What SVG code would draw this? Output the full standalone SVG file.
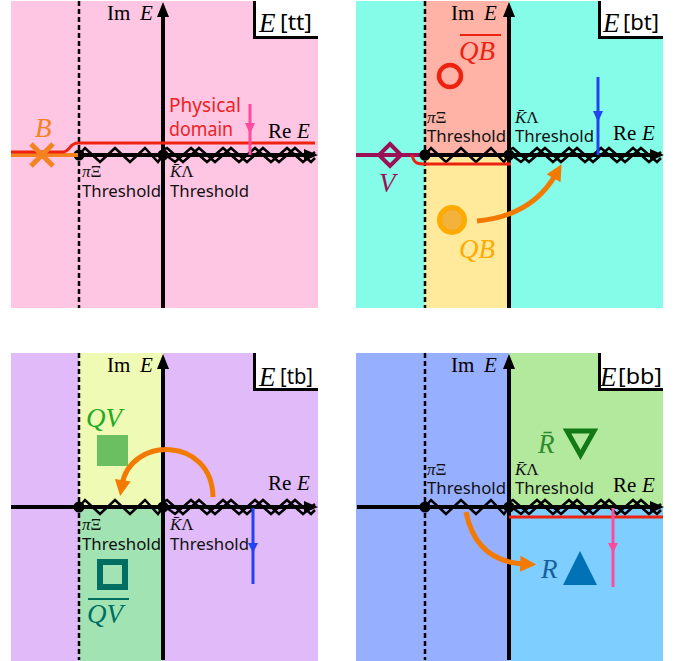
<svg xmlns="http://www.w3.org/2000/svg" xmlns:xlink="http://www.w3.org/1999/xlink" width="681" height="661" viewBox="0 0 681 661">
<style>
.serif{font-family:"Liberation Serif","Times New Roman",serif;}
.it{font-style:italic;}
.sans{font-family:"Noto Sans","Liberation Sans",Arial,sans-serif;}
.lbl{font-family:"Liberation Serif",serif;font-size:21px;fill:#000;}
.thr{font-family:"Noto Sans","Liberation Sans",sans-serif;font-size:16.5px;fill:#111;}
.sym{font-family:"Liberation Serif",serif;font-size:17px;fill:#111;}
.dash{stroke:#000;stroke-width:2.5;stroke-dasharray:5 3;fill:none;}
.axis{stroke:#000;stroke-width:4;fill:none;}
.zz{stroke:#000;stroke-width:2.5;fill:none;stroke-linejoin:miter;}
.box{fill:#fff;}
.boxb{stroke:#000;stroke-width:3;fill:none;}
.orarr{stroke:#F27A00;stroke-width:5;fill:none;marker-end:url(#oh);}
</style>
<defs>
<marker id="oh" viewBox="0 0 10 10" markerWidth="3.4" markerHeight="3.2" refX="3" refY="5" orient="auto" markerUnits="strokeWidth">
<path d="M0,0 L10,5 L0,10 z" fill="#F27A00"/>
</marker>
<g id="ax">
<line class="dash" x1="79" y1="-154" x2="79" y2="153"/>
<line class="axis" x1="163" y1="153" x2="163" y2="-140"/>
<polygon points="163,-153 157,-138 169,-138" fill="#000"/>
<line class="axis" x1="11" y1="0" x2="306" y2="0"/>
<polygon points="318,0 304,-6 304,6" fill="#000"/>
<polyline class="zz" points="79,0 85,-7 100,7 115,-7 130,7 145,-7 158,7 163,0"/>
<polyline class="zz" points="163,-5 167,-7 183,7 199,-7 215,7 231,-7 247,7 263,-7 279,7 295,-7 311,7 315,3"/>
<polyline class="zz" points="163,-2 175,7 191,-7 207,7 223,-7 239,7 255,-7 271,7 287,-7 303,7 315,-3"/>
<circle cx="79" cy="0" r="5.5" fill="#000"/>
<circle cx="163" cy="0" r="5.5" fill="#000"/>
</g>
</defs>

<!-- ===== Quadrant tt ===== -->
<g id="q-tt">
<rect x="11" y="1" width="307" height="307" fill="#FFC6E3"/>
<use xlink:href="#ax" href="#ax" transform="translate(0,155)"/>
<rect class="box" x="253" y="1" width="65" height="36"/>
<path class="boxb" d="M254.5,1 V37.5 H318"/>
<text x="259" y="32" class="serif it" font-size="27">E</text>
<text x="280" y="30" class="sans" font-size="22" textLength="32" lengthAdjust="spacingAndGlyphs">[tt]</text>
<text x="107" y="20" class="lbl">Im<tspan x="140" class="it">E</tspan></text>
<text x="268" y="138" class="lbl">Re<tspan x="297" class="it">E</tspan></text>
<text x="82" y="177" class="sym"><tspan class="it">π</tspan>Ξ</text>
<text x="82" y="197" class="thr" textLength="79" lengthAdjust="spacingAndGlyphs">Threshold</text>
<text x="170" y="177" class="sym"><tspan class="it">K̄</tspan>Λ</text>
<text x="170" y="197" class="thr" textLength="79" lengthAdjust="spacingAndGlyphs">Threshold</text>
<line x1="11" y1="155" x2="78" y2="155" stroke="#F58220" stroke-width="4"/>
<path d="M11,152 H63 C70,152 69,143 78,143 H315" stroke="#EE2211" stroke-width="3" fill="none"/>
<g id="B-pole">
<path d="M31,144 L53,166 M53,144 L31,166" stroke="#F58220" stroke-width="5"/>
<text x="35" y="137" class="serif it" font-size="27" fill="#F58220">B</text>
</g>
<text x="169" y="112" class="sans" font-size="19" fill="#EE2222" textLength="72" lengthAdjust="spacingAndGlyphs">Physical</text>
<text x="169" y="136" class="sans" font-size="19" fill="#EE2222" textLength="64" lengthAdjust="spacingAndGlyphs">domain</text>
<line x1="250" y1="104" x2="250" y2="155" stroke="#FF4A9E" stroke-width="3"/>
<polygon points="245,123 255,123 250,134" fill="#FF4A9E"/>
</g>

<!-- ===== Quadrant bt ===== -->
<g id="q-bt">
<rect x="356" y="1" width="307" height="307" fill="#84FCE8"/>
<rect x="425" y="1" width="84" height="154" fill="#FFB3A7"/>
<rect x="425" y="155" width="84" height="153" fill="#FFE99A"/>
<use xlink:href="#ax" href="#ax" transform="translate(346,155)"/>
<rect class="box" x="598" y="1" width="65" height="36"/>
<path class="boxb" d="M599.5,1 V37.5 H663"/>
<text x="603" y="32" class="serif it" font-size="27">E</text>
<text x="623" y="30" class="sans" font-size="22" textLength="36" lengthAdjust="spacingAndGlyphs">[bt]</text>
<text x="451" y="20" class="lbl">Im<tspan x="484" class="it">E</tspan></text>
<text x="613" y="140" class="lbl">Re<tspan x="642" class="it">E</tspan></text>
<text x="427" y="123" class="sym"><tspan class="it">π</tspan>Ξ</text>
<text x="427" y="142" class="thr" textLength="79" lengthAdjust="spacingAndGlyphs">Threshold</text>
<text x="515" y="123" class="sym"><tspan class="it">K̄</tspan>Λ</text>
<text x="515" y="142" class="thr" textLength="79" lengthAdjust="spacingAndGlyphs">Threshold</text>
<line x1="356" y1="155" x2="420" y2="155" stroke="#9B1057" stroke-width="4"/>
<path d="M412,155 C414,164 418,164 426,164 H511" stroke="#EE2211" stroke-width="3" fill="none"/>
<circle cx="425" cy="155" r="5.5" fill="#000"/>
<g id="V-pole">
<path d="M390,144 L401,155 L390,166 L379,155 Z" fill="none" stroke="#9B1057" stroke-width="4"/>
<text x="379" y="192" class="serif it" font-size="27" fill="#9B1057">V</text>
</g>
<g id="QBbar-pole">
<circle cx="450" cy="76" r="11" fill="none" stroke="#EE2211" stroke-width="4.5"/>
<line x1="460" y1="35" x2="501" y2="35" stroke="#EE2211" stroke-width="1.8"/>
<text x="459" y="60" class="serif it" font-size="27" fill="#EE2211">QB</text>
</g>
<g id="QB-pole">
<circle cx="452" cy="220" r="12.5" fill="#F2B23C" stroke="#FFAA00" stroke-width="5"/>
<text x="459" y="258" class="serif it" font-size="27" fill="#FFAA00">QB</text>
</g>
<line x1="598" y1="77" x2="598" y2="155" stroke="#2244EE" stroke-width="3"/>
<polygon points="593,111 603,111 598,122" fill="#2244EE"/>
</g>

<!-- ===== Quadrant tb ===== -->
<g id="q-tb">
<rect x="11" y="353" width="307" height="308" fill="#E0BAF9"/>
<rect x="79" y="353" width="84" height="154" fill="#EFFBB4"/>
<rect x="79" y="507" width="84" height="154" fill="#A2E3B4"/>
<use xlink:href="#ax" href="#ax" transform="translate(0,507)"/>
<rect class="box" x="253" y="353" width="65" height="36"/>
<path class="boxb" d="M254.5,353 V389.5 H318"/>
<text x="259" y="386" class="serif it" font-size="27">E</text>
<text x="280" y="384" class="sans" font-size="22" textLength="33" lengthAdjust="spacingAndGlyphs">[tb]</text>
<text x="107" y="372" class="lbl">Im<tspan x="140" class="it">E</tspan></text>
<text x="268" y="490" class="lbl">Re<tspan x="297" class="it">E</tspan></text>
<text x="82" y="530" class="sym"><tspan class="it">π</tspan>Ξ</text>
<text x="82" y="550" class="thr" textLength="79" lengthAdjust="spacingAndGlyphs">Threshold</text>
<text x="170" y="530" class="sym"><tspan class="it">K̄</tspan>Λ</text>
<text x="170" y="550" class="thr" textLength="79" lengthAdjust="spacingAndGlyphs">Threshold</text>
<g id="QV-pole">
<rect x="97" y="435" width="31" height="31" fill="#6CBF60"/>
<text x="86" y="427" class="serif it" font-size="27" fill="#22AA22">QV</text>
</g>
<g id="QVbar-pole">
<rect x="100" y="562" width="25" height="25" fill="none" stroke="#006E60" stroke-width="6"/>
<line x1="88" y1="599" x2="129" y2="599" stroke="#006E60" stroke-width="1.8"/>
<text x="87" y="623" class="serif it" font-size="27" fill="#006E60">QV</text>
</g>
<line x1="253" y1="508" x2="253" y2="584" stroke="#2244EE" stroke-width="3"/>
<polygon points="248,543 258,543 253,553" fill="#2244EE"/>
</g>

<!-- ===== Quadrant bb ===== -->
<g id="q-bb">
<rect x="356" y="353" width="307" height="308" fill="#97AFFF"/>
<rect x="509" y="353" width="154" height="154" fill="#B2E99D"/>
<rect x="509" y="507" width="154" height="154" fill="#7ECEFF"/>
<use xlink:href="#ax" href="#ax" transform="translate(346,507)"/>
<rect class="box" x="598" y="353" width="65" height="36"/>
<path class="boxb" d="M599.5,353 V389.5 H663"/>
<text x="600" y="386" class="serif it" font-size="27">E</text>
<text x="618" y="384" class="sans" font-size="22" textLength="44" lengthAdjust="spacingAndGlyphs">[bb]</text>
<text x="451" y="372" class="lbl">Im<tspan x="484" class="it">E</tspan></text>
<text x="613" y="492" class="lbl">Re<tspan x="642" class="it">E</tspan></text>
<text x="427" y="475" class="sym"><tspan class="it">π</tspan>Ξ</text>
<text x="427" y="494" class="thr" textLength="79" lengthAdjust="spacingAndGlyphs">Threshold</text>
<text x="515" y="475" class="sym"><tspan class="it">K̄</tspan>Λ</text>
<text x="515" y="494" class="thr" textLength="79" lengthAdjust="spacingAndGlyphs">Threshold</text>
<line x1="509" y1="517" x2="663" y2="517" stroke="#EE2211" stroke-width="3"/>
<g id="Rbar-pole">
<text x="538" y="453" class="serif it" font-size="27" fill="#2E8B2E">R̄</text>
<polygon points="567,431 594,431 580.5,455" fill="none" stroke="#117A17" stroke-width="5" stroke-linejoin="miter"/>
</g>
<g id="R-pole">
<text x="541" y="578" class="serif it" font-size="27" fill="#15609E">R</text>
<polygon points="580,551 563,585 597,585" fill="#0072B5"/>
</g>
<line x1="613" y1="508" x2="613" y2="587" stroke="#FF4A9E" stroke-width="3"/>
<polygon points="608,543 618,543 613,553" fill="#FF4A9E"/>
</g>

<!-- ===== connectors ===== -->
<g id="connectors">
<path class="orarr" d="M477,221 Q532,216 556,174"/>
<path class="orarr" d="M213,497 C212,436 130,436 122,485"/>
<path class="orarr" d="M466,512 Q476,562 525,564"/>
</g>
</svg>
